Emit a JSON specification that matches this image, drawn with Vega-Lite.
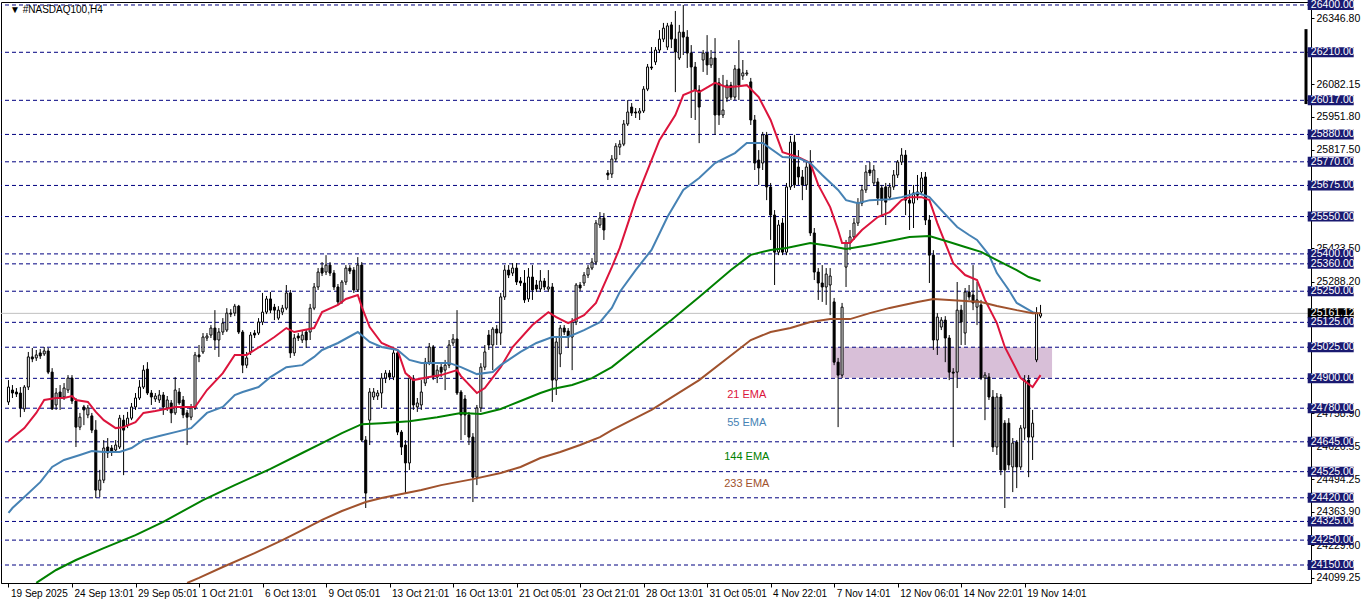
{
"$schema":"https://vega.github.io/schema/vega-lite/v6.json",
"width":1310,"height":581,
"padding":{"left":1,"top":2,"right":51,"bottom":20},
"autosize":{"type":"none"},
"background":"white",
"config":{"view":{"stroke":"black","strokeWidth":1},"font":"Liberation Sans"},
"resolve":{"axis":{"x":"independent","y":"independent"}},
"datasets":{
"candles":[
{"i":0,"o":24805,"h":24893,"l":24793,"c":24865},
{"i":1,"o":24853,"h":24873,"l":24821,"c":24841},
{"i":2,"o":24845,"h":24861,"l":24825,"c":24837},
{"i":3,"o":24841,"h":24865,"l":24744,"c":24781},
{"i":4,"o":24777,"h":24873,"l":24765,"c":24865},
{"i":5,"o":24865,"h":25006,"l":24853,"c":24986},
{"i":6,"o":24986,"h":25022,"l":24965,"c":24978},
{"i":7,"o":24982,"h":25014,"l":24970,"c":24994},
{"i":8,"o":25002,"h":25018,"l":24978,"c":24990},
{"i":9,"o":24998,"h":25026,"l":24990,"c":25010},
{"i":10,"o":25010,"h":25022,"l":24917,"c":24925},
{"i":11,"o":24925,"h":24941,"l":24773,"c":24777},
{"i":12,"o":24793,"h":24861,"l":24773,"c":24841},
{"i":13,"o":24845,"h":24873,"l":24773,"c":24825},
{"i":14,"o":24825,"h":24881,"l":24813,"c":24861},
{"i":15,"o":24853,"h":24913,"l":24841,"c":24901},
{"i":16,"o":24901,"h":24913,"l":24797,"c":24809},
{"i":17,"o":24809,"h":24821,"l":24624,"c":24704},
{"i":18,"o":24704,"h":24761,"l":24692,"c":24744},
{"i":19,"o":24785,"h":24793,"l":24712,"c":24773},
{"i":20,"o":24753,"h":24793,"l":24740,"c":24781},
{"i":21,"o":24749,"h":24761,"l":24680,"c":24692},
{"i":22,"o":24692,"h":24732,"l":24419,"c":24451},
{"i":23,"o":24451,"h":24532,"l":24423,"c":24491},
{"i":24,"o":24491,"h":24652,"l":24479,"c":24620},
{"i":25,"o":24624,"h":24660,"l":24580,"c":24600},
{"i":26,"o":24620,"h":24632,"l":24588,"c":24604},
{"i":27,"o":24612,"h":24652,"l":24600,"c":24632},
{"i":28,"o":24624,"h":24753,"l":24616,"c":24740},
{"i":29,"o":24732,"h":24753,"l":24511,"c":24692},
{"i":30,"o":24712,"h":24765,"l":24700,"c":24740},
{"i":31,"o":24740,"h":24801,"l":24732,"c":24785},
{"i":32,"o":24785,"h":24841,"l":24773,"c":24821},
{"i":33,"o":24821,"h":24893,"l":24813,"c":24865},
{"i":34,"o":24865,"h":24953,"l":24857,"c":24933},
{"i":35,"o":24937,"h":24965,"l":24833,"c":24841},
{"i":36,"o":24841,"h":24853,"l":24793,"c":24825},
{"i":37,"o":24817,"h":24841,"l":24805,"c":24829},
{"i":38,"o":24813,"h":24853,"l":24801,"c":24833},
{"i":39,"o":24833,"h":24845,"l":24753,"c":24785},
{"i":40,"o":24781,"h":24829,"l":24769,"c":24813},
{"i":41,"o":24801,"h":24813,"l":24720,"c":24761},
{"i":42,"o":24761,"h":24905,"l":24753,"c":24853},
{"i":43,"o":24845,"h":24861,"l":24793,"c":24801},
{"i":44,"o":24813,"h":24829,"l":24740,"c":24753},
{"i":45,"o":24761,"h":24773,"l":24632,"c":24744},
{"i":46,"o":24744,"h":24797,"l":24732,"c":24781},
{"i":47,"o":24781,"h":25006,"l":24773,"c":24994},
{"i":48,"o":24994,"h":25034,"l":24965,"c":24986},
{"i":49,"o":25006,"h":25082,"l":24998,"c":25066},
{"i":50,"o":25062,"h":25082,"l":25050,"c":25070},
{"i":51,"o":25074,"h":25114,"l":25062,"c":25102},
{"i":52,"o":25102,"h":25174,"l":25014,"c":25054},
{"i":53,"o":25054,"h":25102,"l":24986,"c":25086},
{"i":54,"o":25086,"h":25142,"l":25074,"c":25122},
{"i":55,"o":25094,"h":25182,"l":25086,"c":25162},
{"i":56,"o":25162,"h":25178,"l":25146,"c":25158},
{"i":57,"o":25162,"h":25199,"l":25150,"c":25190},
{"i":58,"o":25190,"h":25195,"l":25078,"c":25086},
{"i":59,"o":25086,"h":25094,"l":24921,"c":24953},
{"i":60,"o":24953,"h":25006,"l":24941,"c":24982},
{"i":61,"o":25006,"h":25086,"l":24994,"c":25074},
{"i":62,"o":25082,"h":25094,"l":25062,"c":25074},
{"i":63,"o":25082,"h":25142,"l":25074,"c":25126},
{"i":64,"o":25126,"h":25243,"l":25114,"c":25166},
{"i":65,"o":25166,"h":25231,"l":25158,"c":25219},
{"i":66,"o":25219,"h":25247,"l":25162,"c":25174},
{"i":67,"o":25186,"h":25199,"l":25134,"c":25174},
{"i":68,"o":25142,"h":25190,"l":25134,"c":25174},
{"i":69,"o":25166,"h":25195,"l":25154,"c":25182},
{"i":70,"o":25182,"h":25275,"l":25174,"c":25243},
{"i":71,"o":25243,"h":25255,"l":24982,"c":25002},
{"i":72,"o":25002,"h":25078,"l":24990,"c":25062},
{"i":73,"o":25070,"h":25082,"l":25050,"c":25062},
{"i":74,"o":25054,"h":25090,"l":25042,"c":25074},
{"i":75,"o":25086,"h":25098,"l":25022,"c":25054},
{"i":76,"o":25086,"h":25199,"l":25054,"c":25182},
{"i":77,"o":25182,"h":25283,"l":25174,"c":25267},
{"i":78,"o":25267,"h":25343,"l":25255,"c":25327},
{"i":79,"o":25343,"h":25367,"l":25311,"c":25323},
{"i":80,"o":25327,"h":25395,"l":25315,"c":25355},
{"i":81,"o":25355,"h":25367,"l":25311,"c":25323},
{"i":82,"o":25323,"h":25335,"l":25255,"c":25267},
{"i":83,"o":25267,"h":25279,"l":25195,"c":25207},
{"i":84,"o":25207,"h":25295,"l":25199,"c":25287},
{"i":85,"o":25287,"h":25355,"l":25275,"c":25343},
{"i":86,"o":25343,"h":25355,"l":25319,"c":25331},
{"i":87,"o":25335,"h":25347,"l":25243,"c":25255},
{"i":88,"o":25255,"h":25387,"l":25247,"c":25355},
{"i":89,"o":25355,"h":25367,"l":24644,"c":24652},
{"i":90,"o":24652,"h":24668,"l":24379,"c":24439},
{"i":91,"o":24732,"h":24861,"l":24632,"c":24845},
{"i":92,"o":24825,"h":24861,"l":24813,"c":24845},
{"i":93,"o":24829,"h":24853,"l":24813,"c":24841},
{"i":94,"o":24841,"h":24921,"l":24781,"c":24901},
{"i":95,"o":24901,"h":24933,"l":24881,"c":24921},
{"i":96,"o":24921,"h":24933,"l":24893,"c":24905},
{"i":97,"o":24905,"h":25014,"l":24893,"c":25002},
{"i":98,"o":25002,"h":25014,"l":24672,"c":24684},
{"i":99,"o":24684,"h":24692,"l":24592,"c":24624},
{"i":100,"o":24632,"h":24652,"l":24439,"c":24560},
{"i":101,"o":24560,"h":24913,"l":24532,"c":24901},
{"i":102,"o":24893,"h":24913,"l":24773,"c":24793},
{"i":103,"o":24785,"h":24821,"l":24765,"c":24801},
{"i":104,"o":24793,"h":24893,"l":24773,"c":24845},
{"i":105,"o":24881,"h":24982,"l":24869,"c":24965},
{"i":106,"o":24965,"h":25042,"l":24953,"c":25026},
{"i":107,"o":25026,"h":25034,"l":24893,"c":24905},
{"i":108,"o":24905,"h":24953,"l":24881,"c":24933},
{"i":109,"o":24945,"h":24965,"l":24905,"c":24925},
{"i":110,"o":24933,"h":24974,"l":24853,"c":24953},
{"i":111,"o":24953,"h":25054,"l":24941,"c":25034},
{"i":112,"o":25042,"h":25078,"l":25030,"c":25058},
{"i":113,"o":25058,"h":25174,"l":24833,"c":24841},
{"i":114,"o":24845,"h":24853,"l":24652,"c":24753},
{"i":115,"o":24817,"h":24833,"l":24672,"c":24753},
{"i":116,"o":24753,"h":24765,"l":24632,"c":24664},
{"i":117,"o":24664,"h":24680,"l":24403,"c":24503},
{"i":118,"o":24503,"h":24793,"l":24471,"c":24781},
{"i":119,"o":24781,"h":24961,"l":24765,"c":24945},
{"i":120,"o":24945,"h":25034,"l":24933,"c":25006},
{"i":121,"o":25074,"h":25094,"l":25014,"c":25034},
{"i":122,"o":25034,"h":25106,"l":24933,"c":25098},
{"i":123,"o":25098,"h":25114,"l":25034,"c":25082},
{"i":124,"o":25082,"h":25243,"l":25034,"c":25227},
{"i":125,"o":25227,"h":25355,"l":25215,"c":25335},
{"i":126,"o":25335,"h":25355,"l":25303,"c":25315},
{"i":127,"o":25323,"h":25363,"l":25311,"c":25343},
{"i":128,"o":25343,"h":25363,"l":25275,"c":25287},
{"i":129,"o":25291,"h":25307,"l":25271,"c":25283},
{"i":130,"o":25283,"h":25335,"l":25203,"c":25215},
{"i":131,"o":25219,"h":25343,"l":25207,"c":25307},
{"i":132,"o":25307,"h":25355,"l":25215,"c":25255},
{"i":133,"o":25275,"h":25295,"l":25247,"c":25259},
{"i":134,"o":25259,"h":25335,"l":25247,"c":25291},
{"i":135,"o":25291,"h":25303,"l":25255,"c":25267},
{"i":136,"o":25259,"h":25335,"l":25247,"c":25267},
{"i":137,"o":25267,"h":25283,"l":24805,"c":24893},
{"i":138,"o":24893,"h":25062,"l":24833,"c":25046},
{"i":139,"o":24998,"h":25114,"l":24945,"c":25102},
{"i":140,"o":25102,"h":25114,"l":25074,"c":25086},
{"i":141,"o":25090,"h":25102,"l":25022,"c":25066},
{"i":142,"o":25066,"h":25142,"l":24933,"c":25126},
{"i":143,"o":25126,"h":25283,"l":25114,"c":25275},
{"i":144,"o":25275,"h":25287,"l":25251,"c":25263},
{"i":145,"o":25283,"h":25327,"l":25271,"c":25315},
{"i":146,"o":25315,"h":25355,"l":25303,"c":25343},
{"i":147,"o":25343,"h":25383,"l":25335,"c":25367},
{"i":148,"o":25367,"h":25536,"l":25355,"c":25524},
{"i":149,"o":25516,"h":25568,"l":25504,"c":25544},
{"i":150,"o":25544,"h":25564,"l":25456,"c":25496},
{"i":151,"o":25725,"h":25737,"l":25697,"c":25717},
{"i":152,"o":25721,"h":25797,"l":25705,"c":25781},
{"i":153,"o":25781,"h":25845,"l":25769,"c":25833},
{"i":154,"o":25829,"h":25857,"l":25797,"c":25841},
{"i":155,"o":25841,"h":25938,"l":25833,"c":25922},
{"i":156,"o":25922,"h":26018,"l":25914,"c":25970},
{"i":157,"o":25990,"h":26006,"l":25954,"c":25966},
{"i":158,"o":25970,"h":25986,"l":25946,"c":25966},
{"i":159,"o":25966,"h":25986,"l":25938,"c":25974},
{"i":160,"o":25974,"h":26074,"l":25966,"c":26062},
{"i":161,"o":26062,"h":26163,"l":26054,"c":26151},
{"i":162,"o":26151,"h":26231,"l":26139,"c":26147},
{"i":163,"o":26171,"h":26231,"l":26159,"c":26219},
{"i":164,"o":26219,"h":26299,"l":26207,"c":26263},
{"i":165,"o":26263,"h":26328,"l":26251,"c":26307},
{"i":166,"o":26231,"h":26328,"l":26219,"c":26316},
{"i":167,"o":26320,"h":26332,"l":26227,"c":26263},
{"i":168,"o":26263,"h":26376,"l":26050,"c":26211},
{"i":169,"o":26187,"h":26320,"l":26179,"c":26291},
{"i":170,"o":26291,"h":26400,"l":26199,"c":26271},
{"i":171,"o":26271,"h":26299,"l":26147,"c":26207},
{"i":172,"o":26207,"h":26239,"l":25946,"c":26151},
{"i":173,"o":26151,"h":26171,"l":25938,"c":26058},
{"i":174,"o":26058,"h":26078,"l":25845,"c":25990},
{"i":175,"o":26179,"h":26219,"l":26131,"c":26207},
{"i":176,"o":26207,"h":26279,"l":26119,"c":26159},
{"i":177,"o":26159,"h":26219,"l":26147,"c":26187},
{"i":178,"o":26187,"h":26267,"l":25878,"c":25958},
{"i":179,"o":26087,"h":26107,"l":25918,"c":25958},
{"i":180,"o":25958,"h":26119,"l":25946,"c":25978},
{"i":181,"o":26026,"h":26099,"l":26010,"c":26078},
{"i":182,"o":26078,"h":26091,"l":26018,"c":26030},
{"i":183,"o":26030,"h":26159,"l":26018,"c":26143},
{"i":184,"o":26143,"h":26259,"l":26018,"c":26078},
{"i":185,"o":26115,"h":26179,"l":26099,"c":26127},
{"i":186,"o":26123,"h":26139,"l":26115,"c":26127},
{"i":187,"o":26091,"h":26107,"l":25918,"c":25938},
{"i":188,"o":25938,"h":25958,"l":25737,"c":25765},
{"i":189,"o":25777,"h":25817,"l":25677,"c":25745},
{"i":190,"o":25765,"h":25890,"l":25737,"c":25878},
{"i":191,"o":25878,"h":25890,"l":25616,"c":25669},
{"i":192,"o":25669,"h":25685,"l":25456,"c":25556},
{"i":193,"o":25556,"h":25576,"l":25275,"c":25407},
{"i":194,"o":25407,"h":25536,"l":25395,"c":25516},
{"i":195,"o":25524,"h":25544,"l":25395,"c":25407},
{"i":196,"o":25407,"h":25685,"l":25395,"c":25669},
{"i":197,"o":25669,"h":25874,"l":25657,"c":25849},
{"i":198,"o":25849,"h":25878,"l":25665,"c":25677},
{"i":199,"o":25749,"h":25817,"l":25677,"c":25709},
{"i":200,"o":25709,"h":25737,"l":25616,"c":25677},
{"i":201,"o":25677,"h":25777,"l":25657,"c":25749},
{"i":202,"o":25769,"h":25817,"l":25472,"c":25484},
{"i":203,"o":25484,"h":25504,"l":25295,"c":25327},
{"i":204,"o":25327,"h":25343,"l":25215,"c":25283},
{"i":205,"o":25283,"h":25355,"l":25207,"c":25267},
{"i":206,"o":25267,"h":25343,"l":25195,"c":25319},
{"i":207,"o":25275,"h":25343,"l":25154,"c":25311},
{"i":208,"o":25207,"h":25223,"l":24953,"c":24965},
{"i":209,"o":24965,"h":24982,"l":24704,"c":24913},
{"i":210,"o":24913,"h":25203,"l":24901,"c":25186},
{"i":211,"o":25347,"h":25456,"l":25267,"c":25444},
{"i":212,"o":25444,"h":25496,"l":25415,"c":25468},
{"i":213,"o":25468,"h":25544,"l":25456,"c":25524},
{"i":214,"o":25524,"h":25624,"l":25512,"c":25604},
{"i":215,"o":25604,"h":25677,"l":25592,"c":25657},
{"i":216,"o":25657,"h":25757,"l":25645,"c":25729},
{"i":217,"o":25737,"h":25769,"l":25713,"c":25725},
{"i":218,"o":25685,"h":25757,"l":25673,"c":25737},
{"i":219,"o":25689,"h":25705,"l":25596,"c":25624},
{"i":220,"o":25665,"h":25677,"l":25556,"c":25616},
{"i":221,"o":25669,"h":25685,"l":25516,"c":25608},
{"i":222,"o":25628,"h":25685,"l":25616,"c":25669},
{"i":223,"o":25669,"h":25737,"l":25657,"c":25717},
{"i":224,"o":25717,"h":25777,"l":25705,"c":25769},
{"i":225,"o":25769,"h":25825,"l":25757,"c":25797},
{"i":226,"o":25797,"h":25817,"l":25556,"c":25616},
{"i":227,"o":25616,"h":25657,"l":25496,"c":25604},
{"i":228,"o":25604,"h":25677,"l":25504,"c":25645},
{"i":229,"o":25649,"h":25717,"l":25616,"c":25636},
{"i":230,"o":25649,"h":25729,"l":25636,"c":25705},
{"i":231,"o":25709,"h":25729,"l":25516,"c":25536},
{"i":232,"o":25536,"h":25556,"l":25283,"c":25395},
{"i":233,"o":25395,"h":25415,"l":25014,"c":25054},
{"i":234,"o":25054,"h":25162,"l":24994,"c":25146},
{"i":235,"o":25106,"h":25146,"l":25094,"c":25134},
{"i":236,"o":25134,"h":25150,"l":24965,"c":25062},
{"i":237,"o":25062,"h":25074,"l":24893,"c":24925},
{"i":238,"o":24925,"h":24941,"l":24624,"c":24921},
{"i":239,"o":24925,"h":25287,"l":24861,"c":25174},
{"i":240,"o":25174,"h":25195,"l":25034,"c":25126},
{"i":241,"o":25082,"h":25263,"l":25034,"c":25247},
{"i":242,"o":25247,"h":25275,"l":25215,"c":25227},
{"i":243,"o":25235,"h":25355,"l":25174,"c":25203},
{"i":244,"o":25186,"h":25287,"l":25114,"c":25215},
{"i":245,"o":25195,"h":25215,"l":24893,"c":24901},
{"i":246,"o":24901,"h":24925,"l":24732,"c":24913},
{"i":247,"o":24905,"h":24921,"l":24813,"c":24825},
{"i":248,"o":24825,"h":24853,"l":24604,"c":24624},
{"i":249,"o":24624,"h":24841,"l":24592,"c":24825},
{"i":250,"o":24825,"h":24837,"l":24511,"c":24532},
{"i":251,"o":24720,"h":24732,"l":24379,"c":24532},
{"i":252,"o":24720,"h":24740,"l":24532,"c":24552},
{"i":253,"o":24544,"h":24660,"l":24443,"c":24640},
{"i":254,"o":24644,"h":24652,"l":24459,"c":24544},
{"i":255,"o":24544,"h":24712,"l":24532,"c":24700},
{"i":256,"o":24700,"h":24913,"l":24652,"c":24893},
{"i":257,"o":24893,"h":24913,"l":24503,"c":24664},
{"i":258,"o":24664,"h":24773,"l":24572,"c":24720},
{"i":259,"o":24974,"h":25186,"l":24965,"c":25162},
{"i":260,"o":25150,"h":25195,"l":25142,"c":25161}
],
"ema":[
{"s":"21 EMA","i":0,"p":24648},{"s":"21 EMA","i":4,"p":24700},{"s":"21 EMA","i":7,"p":24761},{"s":"21 EMA","i":9,"p":24813},{"s":"21 EMA","i":12,"p":24821},{"s":"21 EMA","i":14,"p":24821},{"s":"21 EMA","i":16,"p":24829},{"s":"21 EMA","i":17,"p":24813},{"s":"21 EMA","i":20,"p":24805},{"s":"21 EMA","i":22,"p":24765},{"s":"21 EMA","i":24,"p":24732},{"s":"21 EMA","i":27,"p":24700},{"s":"21 EMA","i":29,"p":24704},{"s":"21 EMA","i":32,"p":24724},{"s":"21 EMA","i":34,"p":24761},{"s":"21 EMA","i":37,"p":24769},{"s":"21 EMA","i":42,"p":24785},{"s":"21 EMA","i":47,"p":24785},{"s":"21 EMA","i":50,"p":24853},{"s":"21 EMA","i":54,"p":24921},{"s":"21 EMA","i":57,"p":24994},{"s":"21 EMA","i":60,"p":24994},{"s":"21 EMA","i":64,"p":25034},{"s":"21 EMA","i":67,"p":25066},{"s":"21 EMA","i":70,"p":25102},{"s":"21 EMA","i":72,"p":25086},{"s":"21 EMA","i":77,"p":25102},{"s":"21 EMA","i":79,"p":25166},{"s":"21 EMA","i":83,"p":25195},{"s":"21 EMA","i":85,"p":25219},{"s":"21 EMA","i":88,"p":25235},{"s":"21 EMA","i":89,"p":25187},{"s":"21 EMA","i":91,"p":25106},{"s":"21 EMA","i":94,"p":25042},{"s":"21 EMA","i":98,"p":25014},{"s":"21 EMA","i":100,"p":24921},{"s":"21 EMA","i":102,"p":24893},{"s":"21 EMA","i":106,"p":24905},{"s":"21 EMA","i":109,"p":24913},{"s":"21 EMA","i":113,"p":24933},{"s":"21 EMA","i":114,"p":24909},{"s":"21 EMA","i":118,"p":24841},{"s":"21 EMA","i":120,"p":24861},{"s":"21 EMA","i":124,"p":24945},{"s":"21 EMA","i":127,"p":25026},{"s":"21 EMA","i":132,"p":25114},{"s":"21 EMA","i":136,"p":25166},{"s":"21 EMA","i":138,"p":25146},{"s":"21 EMA","i":141,"p":25122},{"s":"21 EMA","i":145,"p":25154},{"s":"21 EMA","i":148,"p":25203},{"s":"21 EMA","i":152,"p":25347},{"s":"21 EMA","i":154,"p":25424},{"s":"21 EMA","i":158,"p":25616},{"s":"21 EMA","i":162,"p":25777},{"s":"21 EMA","i":164,"p":25857},{"s":"21 EMA","i":168,"p":25958},{"s":"21 EMA","i":170,"p":26038},{"s":"21 EMA","i":173,"p":26058},{"s":"21 EMA","i":174,"p":26050},{"s":"21 EMA","i":178,"p":26087},{"s":"21 EMA","i":181,"p":26070},{"s":"21 EMA","i":184,"p":26074},{"s":"21 EMA","i":186,"p":26078},{"s":"21 EMA","i":189,"p":26030},{"s":"21 EMA","i":192,"p":25938},{"s":"21 EMA","i":195,"p":25809},{"s":"21 EMA","i":199,"p":25789},{"s":"21 EMA","i":202,"p":25765},{"s":"21 EMA","i":204,"p":25677},{"s":"21 EMA","i":207,"p":25588},{"s":"21 EMA","i":209,"p":25496},{"s":"21 EMA","i":210,"p":25444},{"s":"21 EMA","i":212,"p":25444},{"s":"21 EMA","i":215,"p":25496},{"s":"21 EMA","i":219,"p":25548},{"s":"21 EMA","i":222,"p":25568},{"s":"21 EMA","i":225,"p":25616},{"s":"21 EMA","i":227,"p":25628},{"s":"21 EMA","i":230,"p":25628},{"s":"21 EMA","i":232,"p":25616},{"s":"21 EMA","i":234,"p":25524},{"s":"21 EMA","i":238,"p":25363},{"s":"21 EMA","i":241,"p":25315},{"s":"21 EMA","i":244,"p":25295},{"s":"21 EMA","i":246,"p":25215},{"s":"21 EMA","i":249,"p":25122},{"s":"21 EMA","i":251,"p":25026},{"s":"21 EMA","i":254,"p":24933},{"s":"21 EMA","i":255,"p":24901},{"s":"21 EMA","i":258,"p":24865},{"s":"21 EMA","i":260,"p":24913},
{"s":"55 EMA","i":0,"p":24359},{"s":"55 EMA","i":1,"p":24379},{"s":"55 EMA","i":4,"p":24423},{"s":"55 EMA","i":8,"p":24483},{"s":"55 EMA","i":11,"p":24544},{"s":"55 EMA","i":14,"p":24572},{"s":"55 EMA","i":18,"p":24592},{"s":"55 EMA","i":21,"p":24608},{"s":"55 EMA","i":24,"p":24604},{"s":"55 EMA","i":28,"p":24604},{"s":"55 EMA","i":31,"p":24620},{"s":"55 EMA","i":34,"p":24652},{"s":"55 EMA","i":38,"p":24668},{"s":"55 EMA","i":42,"p":24684},{"s":"55 EMA","i":46,"p":24700},{"s":"55 EMA","i":50,"p":24761},{"s":"55 EMA","i":54,"p":24785},{"s":"55 EMA","i":57,"p":24833},{"s":"55 EMA","i":59,"p":24845},{"s":"55 EMA","i":63,"p":24865},{"s":"55 EMA","i":66,"p":24905},{"s":"55 EMA","i":70,"p":24945},{"s":"55 EMA","i":74,"p":24953},{"s":"55 EMA","i":77,"p":24986},{"s":"55 EMA","i":79,"p":25014},{"s":"55 EMA","i":83,"p":25042},{"s":"55 EMA","i":88,"p":25086},{"s":"55 EMA","i":91,"p":25046},{"s":"55 EMA","i":94,"p":25026},{"s":"55 EMA","i":98,"p":25014},{"s":"55 EMA","i":101,"p":24974},{"s":"55 EMA","i":104,"p":24962},{"s":"55 EMA","i":108,"p":24962},{"s":"55 EMA","i":111,"p":24962},{"s":"55 EMA","i":114,"p":24945},{"s":"55 EMA","i":118,"p":24917},{"s":"55 EMA","i":122,"p":24925},{"s":"55 EMA","i":124,"p":24953},{"s":"55 EMA","i":129,"p":25006},{"s":"55 EMA","i":133,"p":25042},{"s":"55 EMA","i":137,"p":25066},{"s":"55 EMA","i":141,"p":25066},{"s":"55 EMA","i":145,"p":25094},{"s":"55 EMA","i":149,"p":25126},{"s":"55 EMA","i":152,"p":25183},{"s":"55 EMA","i":154,"p":25247},{"s":"55 EMA","i":158,"p":25335},{"s":"55 EMA","i":162,"p":25416},{"s":"55 EMA","i":166,"p":25548},{"s":"55 EMA","i":170,"p":25657},{"s":"55 EMA","i":174,"p":25705},{"s":"55 EMA","i":178,"p":25765},{"s":"55 EMA","i":183,"p":25805},{"s":"55 EMA","i":186,"p":25846},{"s":"55 EMA","i":190,"p":25846},{"s":"55 EMA","i":195,"p":25789},{"s":"55 EMA","i":199,"p":25785},{"s":"55 EMA","i":202,"p":25765},{"s":"55 EMA","i":205,"p":25717},{"s":"55 EMA","i":209,"p":25657},{"s":"55 EMA","i":211,"p":25616},{"s":"55 EMA","i":214,"p":25604},{"s":"55 EMA","i":217,"p":25616},{"s":"55 EMA","i":222,"p":25620},{"s":"55 EMA","i":225,"p":25628},{"s":"55 EMA","i":229,"p":25645},{"s":"55 EMA","i":232,"p":25628},{"s":"55 EMA","i":235,"p":25576},{"s":"55 EMA","i":239,"p":25508},{"s":"55 EMA","i":242,"p":25476},{"s":"55 EMA","i":244,"p":25456},{"s":"55 EMA","i":247,"p":25396},{"s":"55 EMA","i":249,"p":25323},{"s":"55 EMA","i":252,"p":25255},{"s":"55 EMA","i":254,"p":25203},{"s":"55 EMA","i":258,"p":25166},{"s":"55 EMA","i":259,"p":25162},
{"s":"144 EMA","i":7,"p":24078},{"s":"144 EMA","i":12,"p":24130},{"s":"144 EMA","i":17,"p":24170},{"s":"144 EMA","i":24,"p":24218},{"s":"144 EMA","i":32,"p":24270},{"s":"144 EMA","i":39,"p":24323},{"s":"144 EMA","i":49,"p":24411},{"s":"144 EMA","i":57,"p":24471},{"s":"144 EMA","i":66,"p":24536},{"s":"144 EMA","i":74,"p":24600},{"s":"144 EMA","i":79,"p":24640},{"s":"144 EMA","i":84,"p":24680},{"s":"144 EMA","i":89,"p":24716},{"s":"144 EMA","i":94,"p":24720},{"s":"144 EMA","i":101,"p":24728},{"s":"144 EMA","i":108,"p":24744},{"s":"144 EMA","i":114,"p":24761},{"s":"144 EMA","i":119,"p":24757},{"s":"144 EMA","i":124,"p":24777},{"s":"144 EMA","i":129,"p":24809},{"s":"144 EMA","i":134,"p":24841},{"s":"144 EMA","i":137,"p":24857},{"s":"144 EMA","i":142,"p":24873},{"s":"144 EMA","i":147,"p":24901},{"s":"144 EMA","i":152,"p":24945},{"s":"144 EMA","i":159,"p":25034},{"s":"144 EMA","i":167,"p":25134},{"s":"144 EMA","i":174,"p":25227},{"s":"144 EMA","i":182,"p":25335},{"s":"144 EMA","i":187,"p":25396},{"s":"144 EMA","i":192,"p":25416},{"s":"144 EMA","i":196,"p":25424},{"s":"144 EMA","i":202,"p":25444},{"s":"144 EMA","i":207,"p":25432},{"s":"144 EMA","i":211,"p":25420},{"s":"144 EMA","i":217,"p":25436},{"s":"144 EMA","i":222,"p":25452},{"s":"144 EMA","i":227,"p":25468},{"s":"144 EMA","i":232,"p":25472},{"s":"144 EMA","i":237,"p":25448},{"s":"144 EMA","i":241,"p":25428},{"s":"144 EMA","i":245,"p":25408},{"s":"144 EMA","i":249,"p":25375},{"s":"144 EMA","i":254,"p":25335},{"s":"144 EMA","i":257,"p":25307},{"s":"144 EMA","i":260,"p":25291},
{"s":"233 EMA","i":45,"p":24078},{"s":"233 EMA","i":48,"p":24098},{"s":"233 EMA","i":54,"p":24142},{"s":"233 EMA","i":62,"p":24198},{"s":"233 EMA","i":69,"p":24250},{"s":"233 EMA","i":74,"p":24290},{"s":"233 EMA","i":79,"p":24331},{"s":"233 EMA","i":84,"p":24367},{"s":"233 EMA","i":90,"p":24403},{"s":"233 EMA","i":94,"p":24419},{"s":"233 EMA","i":99,"p":24435},{"s":"233 EMA","i":104,"p":24451},{"s":"233 EMA","i":109,"p":24471},{"s":"233 EMA","i":117,"p":24495},{"s":"233 EMA","i":124,"p":24520},{"s":"233 EMA","i":129,"p":24544},{"s":"233 EMA","i":134,"p":24580},{"s":"233 EMA","i":139,"p":24604},{"s":"233 EMA","i":144,"p":24632},{"s":"233 EMA","i":149,"p":24664},{"s":"233 EMA","i":152,"p":24692},{"s":"233 EMA","i":162,"p":24773},{"s":"233 EMA","i":174,"p":24893},{"s":"233 EMA","i":187,"p":25054},{"s":"233 EMA","i":192,"p":25086},{"s":"233 EMA","i":197,"p":25102},{"s":"233 EMA","i":202,"p":25126},{"s":"233 EMA","i":207,"p":25138},{"s":"233 EMA","i":212,"p":25138},{"s":"233 EMA","i":217,"p":25162},{"s":"233 EMA","i":222,"p":25183},{"s":"233 EMA","i":229,"p":25207},{"s":"233 EMA","i":233,"p":25219},{"s":"233 EMA","i":237,"p":25215},{"s":"233 EMA","i":241,"p":25211},{"s":"233 EMA","i":245,"p":25207},{"s":"233 EMA","i":249,"p":25191},{"s":"233 EMA","i":254,"p":25174},{"s":"233 EMA","i":258,"p":25162},{"s":"233 EMA","i":260,"p":25162}
],
"levels":[{"p":26400},{"p":26210},{"p":26017},{"p":25880},{"p":25770},{"p":25675},{"p":25550},{"p":25400},{"p":25360},{"p":25250},{"p":25125},{"p":25025},{"p":24900},{"p":24780},{"p":24645},{"p":24525},{"p":24420},{"p":24325},{"p":24250},{"p":24150}],
"emalabels":[{"s":"21 EMA","i":186,"p":24833},{"s":"55 EMA","i":186,"p":24720},{"s":"144 EMA","i":186,"p":24584},{"s":"233 EMA","i":186,"p":24475}],
"zone":[{"i1":207.2,"i2":262.9,"p1":25025,"p2":24902}],
"current":[{"p":25161.12}]
},
"layer":[
{"data":{"name":"zone"},"mark":{"type":"rect","color":"#d8bfd8","opacity":1},
 "encoding":{"x":{"field":"i1","type":"quantitative","scale":{"domain":[-0.625,326.875],"nice":false,"zero":false},"axis":null},"x2":{"field":"i2"},
 "y":{"field":"p1","type":"quantitative","scale":{"domain":[24077.7,26412.05],"nice":false,"zero":false},"axis":null},"y2":{"field":"p2"}}},
{"data":{"name":"current"},"mark":{"type":"rule","color":"#c0c0c0","strokeWidth":1},
 "encoding":{"y":{"field":"p","type":"quantitative","scale":{"domain":[24077.7,26412.05],"nice":false,"zero":false},"axis":null}}},
{"data":{"name":"levels"},"mark":{"type":"rule","color":"#000080","strokeWidth":1,"strokeDash":[4,3]},
 "encoding":{"y":{"field":"p","type":"quantitative","scale":{"domain":[24077.7,26412.05],"nice":false,"zero":false},"axis":null}}},
{"data":{"name":"candles"},"mark":{"type":"rule","color":"black","strokeWidth":1},
 "encoding":{"x":{"field":"i","type":"quantitative","scale":{"domain":[-0.625,326.875],"nice":false,"zero":false},
   "axis":{"values":[0,16,32,48,64,80,96,112,128,144,160,176,192,208,224,240,256],"labelExpr":"['19 Sep 2025','24 Sep 13:01','29 Sep 05:01','1 Oct 21:01','6 Oct 13:01','9 Oct 05:01','13 Oct 21:01','16 Oct 13:01','21 Oct 05:01','23 Oct 21:01','28 Oct 13:01','31 Oct 05:01','4 Nov 22:01','7 Nov 14:01','12 Nov 06:01','14 Nov 22:01','19 Nov 14:01'][round(datum.value/16)]","labelAlign":"left","labelOffset":2,"labelPadding":1,"tickSize":4,"labelFontSize":10,"labelFont":"Liberation Sans","labelColor":"black","tickColor":"black","domainColor":"black","title":null,"grid":false,"labelFlush":false,"labelOverlap":false,"labelBound":false}},
  "y":{"field":"l","type":"quantitative","scale":{"domain":[24077.7,26412.05],"nice":false,"zero":false},
   "axis":{"orient":"right","values":[26346.8,26082.15,25951.8,25817.5,25423.5,25288.2,24758.9,24626.55,24494.25,24363.9,24229.6,24099.25],"format":".2f","tickSize":3,"labelPadding":2,"labelFontSize":10.5,"labelFont":"Liberation Sans","labelColor":"black","tickColor":"black","domainColor":"black","title":null,"grid":false,"labelOverlap":false,"labelFlush":false,"labelBound":false}},
  "y2":{"field":"h"}}},
{"data":{"name":"candles"},"mark":{"type":"bar","width":2,"stroke":"black","strokeWidth":1},
 "encoding":{"x":{"field":"i","type":"quantitative","scale":{"domain":[-0.625,326.875],"nice":false,"zero":false},"axis":null},
  "y":{"field":"o","type":"quantitative","scale":{"domain":[24077.7,26412.05],"nice":false,"zero":false},"axis":null},
  "y2":{"field":"c"},
  "fill":{"condition":{"test":"datum.c >= datum.o","value":"white"},"value":"black"}}},
{"data":{"name":"ema"},"mark":{"type":"line","strokeWidth":2,"clip":true},
 "encoding":{"x":{"field":"i","type":"quantitative","scale":{"domain":[-0.625,326.875],"nice":false,"zero":false},"axis":null},
  "y":{"field":"p","type":"quantitative","scale":{"domain":[24077.7,26412.05],"nice":false,"zero":false},"axis":null},
  "color":{"field":"s","type":"nominal","scale":{"domain":["21 EMA","55 EMA","144 EMA","233 EMA"],"range":["#dc143c","#4682b4","#008000","#a0522d"]},"legend":null}}},
{"data":{"name":"emalabels"},"mark":{"type":"text","fontSize":11,"font":"Liberation Sans","align":"center","baseline":"middle"},
 "encoding":{"x":{"field":"i","type":"quantitative","scale":{"domain":[-0.625,326.875],"nice":false,"zero":false},"axis":null},
  "y":{"field":"p","type":"quantitative","scale":{"domain":[24077.7,26412.05],"nice":false,"zero":false},"axis":null},
  "text":{"field":"s"},
  "color":{"field":"s","type":"nominal","scale":{"domain":["21 EMA","55 EMA","144 EMA","233 EMA"],"range":["#dc143c","#4682b4","#008000","#a0522d"]},"legend":null}}},
{"data":{"values":[{"t":"▼ #NASDAQ100,H4"}]},"mark":{"type":"text","fontSize":10,"font":"Liberation Sans","align":"left","baseline":"middle","dx":4,"color":"black"},
 "encoding":{"x":{"datum":-0.625,"type":"quantitative","scale":{"domain":[-0.625,326.875],"nice":false,"zero":false},"axis":null},
  "y":{"datum":26380,"type":"quantitative","scale":{"domain":[24077.7,26412.05],"nice":false,"zero":false},"axis":null},
  "text":{"field":"t"}}},
{"data":{"values":[{"p1":26303,"p2":26002}]},"mark":{"type":"rule","color":"black","strokeWidth":3,"clip":false},
 "encoding":{"x":{"datum":326.875,"type":"quantitative","scale":{"domain":[-0.625,326.875],"nice":false,"zero":false},"axis":null},
  "y":{"field":"p1","type":"quantitative","scale":{"domain":[24077.7,26412.05],"nice":false,"zero":false},"axis":null},"y2":{"field":"p2"}}},
{"data":{"name":"current"},"mark":{"type":"tick","orient":"horizontal","size":46,"thickness":10,"color":"black","opacity":1,"clip":false},
 "encoding":{"x":{"datum":333.1,"type":"quantitative","scale":{"domain":[-0.625,326.875],"nice":false,"zero":false},"axis":null},
  "y":{"field":"p","type":"quantitative","scale":{"domain":[24077.7,26412.05],"nice":false,"zero":false},"axis":null}}},
{"data":{"name":"current"},"mark":{"type":"text","align":"left","baseline":"middle","fontSize":10.5,"font":"Liberation Sans","color":"white","clip":false},
 "encoding":{"x":{"datum":328.1,"type":"quantitative","scale":{"domain":[-0.625,326.875],"nice":false,"zero":false},"axis":null},
  "y":{"field":"p","type":"quantitative","scale":{"domain":[24077.7,26412.05],"nice":false,"zero":false},"axis":null},
  "text":{"field":"p","type":"quantitative","format":".2f"}}},
{"data":{"name":"levels"},"mark":{"type":"tick","orient":"horizontal","size":46,"thickness":10,"color":"#191970","opacity":1,"clip":false},
 "encoding":{"x":{"datum":333.1,"type":"quantitative","scale":{"domain":[-0.625,326.875],"nice":false,"zero":false},"axis":null},
  "y":{"field":"p","type":"quantitative","scale":{"domain":[24077.7,26412.05],"nice":false,"zero":false},"axis":null}}},
{"data":{"name":"levels"},"mark":{"type":"text","align":"left","baseline":"middle","fontSize":10.5,"font":"Liberation Sans","color":"white","clip":false},
 "encoding":{"x":{"datum":328.1,"type":"quantitative","scale":{"domain":[-0.625,326.875],"nice":false,"zero":false},"axis":null},
  "y":{"field":"p","type":"quantitative","scale":{"domain":[24077.7,26412.05],"nice":false,"zero":false},"axis":null},
  "text":{"field":"p","type":"quantitative","format":".2f"}}}
]
}
